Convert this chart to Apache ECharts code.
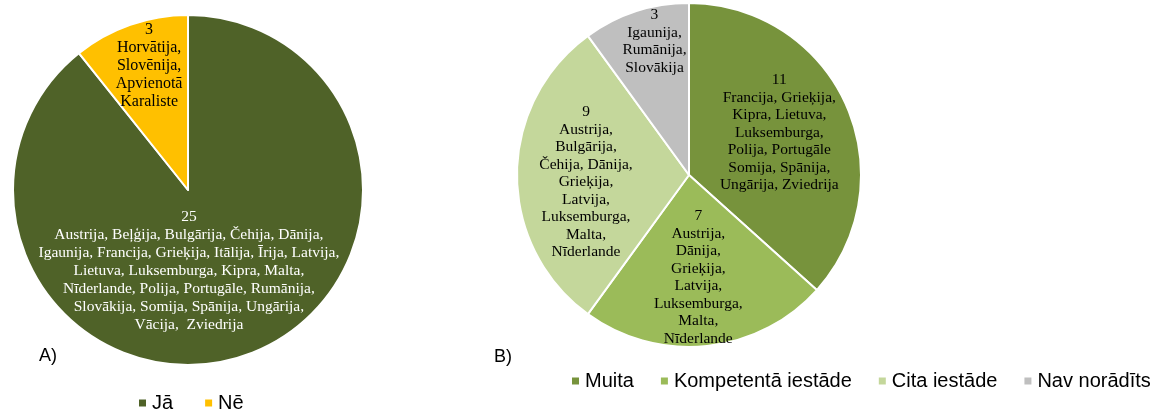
<!DOCTYPE html>
<html>
<head>
<meta charset="utf-8">
<script src="https://cdn.jsdelivr.net/npm/echarts@6/dist/echarts.min.js"></script>
<style>
html,body{margin:0;padding:0;background:#fff;}
#c{width:1153px;height:410px;}
</style>
</head>
<body>
<div id="c"></div>
<script>
// ---- Data ----
const categoriesA = ['Jā', 'Nē'];
const valuesA = [25, 3];
const countriesA = [
  'Austrija, Beļģija, Bulgārija, Čehija, Dānija,\nIgaunija, Francija, Grieķija, Itālija, Īrija, Latvija,\nLietuva, Luksemburga, Kipra, Malta,\nNīderlande, Polija, Portugāle, Rumānija,\nSlovākija, Somija, Spānija, Ungārija,\nVācija,  Zviedrija',
  'Horvātija,\nSlovēnija,\nApvienotā\nKaraliste'
];
const categoriesB = ['Muita', 'Kompetentā iestāde', 'Cita iestāde', 'Nav norādīts'];
const valuesB = [11, 7, 9, 3];
const countriesB = [
  'Francija, Grieķija,\nKipra, Lietuva,\nLuksemburga,\nPolija, Portugāle\nSomija, Spānija,\nUngārija, Zviedrija',
  'Austrija,\nDānija,\nGrieķija,\nLatvija,\nLuksemburga,\nMalta,\nNīderlande',
  'Austrija,\nBulgārija,\nČehija, Dānija,\nGrieķija,\nLatvija,\nLuksemburga,\nMalta,\nNīderlande',
  'Igaunija,\nRumānija,\nSlovākija'
];

// ---- Styles ----
const colorsA = ['#4F6228', '#FFC000'];
const labelColorsA = ['#ffffff', '#000000'];
const labelSizesA = [15.5, 16];
const offsetsA = [[-29, -4], [-9, -39]];
const colorsB = ['#77933C', '#9BBB59', '#C4D79B', '#BFBFBF'];
const offsetsB = [[9, -6], [0, 14], [-14, 7], [-7, -49]];

const serif = '"Liberation Serif", "Times New Roman", serif';
const sans = '"Liberation Sans", Arial, sans-serif';

function buildData(cats, vals, colors, offsets, labelColors, sizes, lh) {
  return cats.map((n, i) => ({
    name: n,
    value: vals[i],
    itemStyle: { color: colors[i] },
    label: {
      offset: offsets[i],
      color: labelColors ? labelColors[i] : '#000',
      fontSize: sizes ? sizes[i] : 15.5,
      lineHeight: lh
    }
  }));
}

const chart = echarts.init(document.getElementById('c'), null, { renderer: 'canvas' });
chart.setOption({
  animation: false,
  legend: [
    {
      data: categoriesA, left: 137, top: 393, padding: 0, itemWidth: 9, itemHeight: 9, itemGap: 30,
      icon: 'rect', textStyle: { fontFamily: sans, fontSize: 20, color: '#000' }
    },
    {
      data: categoriesB, left: 570, top: 371, padding: 0, itemWidth: 9, itemHeight: 9, itemGap: 25,
      icon: 'rect', textStyle: { fontFamily: sans, fontSize: 20, color: '#000' }
    }
  ],
  graphic: [
    { type: 'text', left: 39, top: 347, style: { text: 'A)', font: '18px ' + sans, fill: '#000' } },
    { type: 'text', left: 494, top: 348, style: { text: 'B)', font: '18px ' + sans, fill: '#000' } }
  ],
  series: [
    {
      type: 'pie', center: [188, 190], radius: 175, startAngle: 90, clockwise: true,
      itemStyle: { borderColor: '#fff', borderWidth: 2 },
      label: {
        position: 'inside', fontFamily: serif,
        formatter: p => p.value + '\n' + countriesA[p.dataIndex]
      },
      labelLine: { show: false },
      data: buildData(categoriesA, valuesA, colorsA, offsetsA, labelColorsA, labelSizesA, 18)
    },
    {
      type: 'pie', center: [689, 175], radius: 172, startAngle: 90, clockwise: true,
      itemStyle: { borderColor: '#fff', borderWidth: 2 },
      label: {
        position: 'inside', fontFamily: serif,
        formatter: p => p.value + '\n' + countriesB[p.dataIndex]
      },
      labelLine: { show: false },
      data: buildData(categoriesB, valuesB, colorsB, offsetsB, null, null, 17.5)
    }
  ]
});
</script>
</body>
</html>
